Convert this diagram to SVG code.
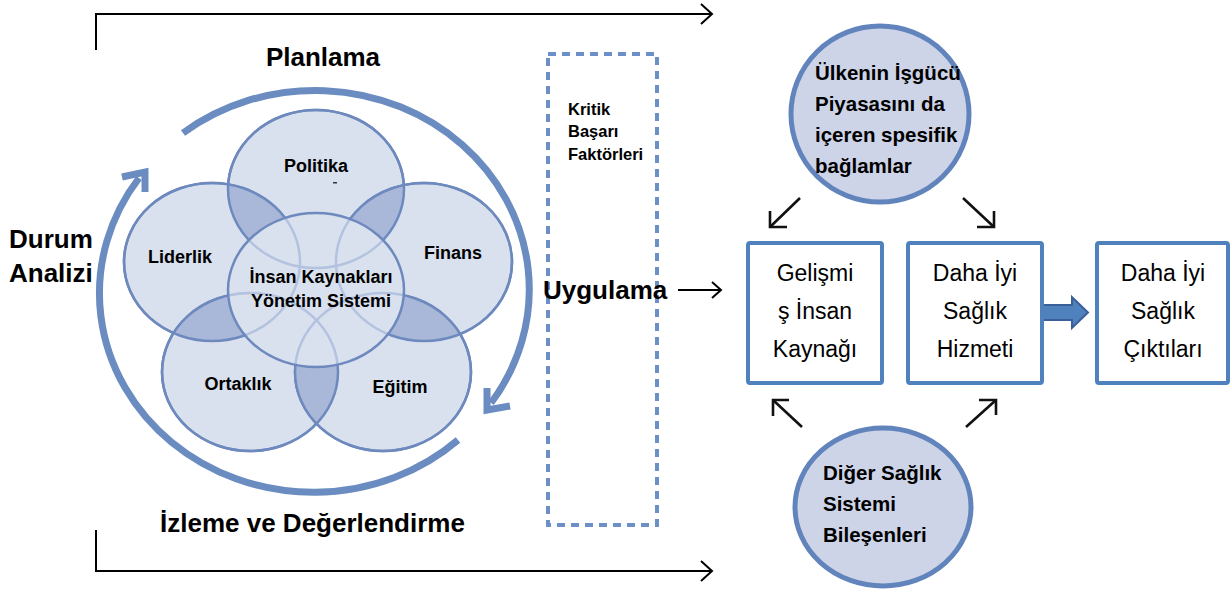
<svg xmlns="http://www.w3.org/2000/svg" xmlns:xlink="http://www.w3.org/1999/xlink" width="1231" height="592" viewBox="0 0 1231 592">
<style>
text{font-family:"Liberation Sans",Arial,sans-serif;fill:#000}
.b{font-weight:bold}
.big{font-size:26px;font-weight:bold}
.vl{font-size:18px;font-weight:bold}
.ks{font-size:16.5px;font-weight:bold}
.rc{font-size:20.5px;font-weight:bold}
.bx{font-size:23px;text-anchor:middle}
.vfill{fill:#d9e1ef;stroke:none}
.vstroke{fill:none;stroke:#6d89bd;stroke-width:2.5}
.lens{fill:#a9b8d9;stroke:none}
.faint{fill:none;stroke:#b3c2de;stroke-width:2.5}
.cyc{fill:none;stroke:#6a8cc1;stroke-width:7}
.blk{fill:none;stroke:#000;stroke-width:2}
.sm{fill:none;stroke:#111;stroke-width:2.6}
.box{fill:#fff;stroke:#4f81bd;stroke-width:4}
.rcirc{fill:#cdd4e8;stroke:#6284bc;stroke-width:5}
</style>
<defs>
<ellipse id="eP" cx="316" cy="189" rx="88" ry="79"/>
<ellipse id="eL" cx="212" cy="262" rx="88" ry="79"/>
<ellipse id="eF" cx="424" cy="262" rx="88" ry="79"/>
<ellipse id="eO" cx="250" cy="372" rx="88" ry="79"/>
<ellipse id="eE" cx="383" cy="372" rx="88" ry="79"/>
<ellipse id="eC" cx="316" cy="290" rx="88" ry="77"/>
<clipPath id="cP"><use xlink:href="#eP"/></clipPath>
<clipPath id="cL"><use xlink:href="#eL"/></clipPath>
<clipPath id="cF"><use xlink:href="#eF"/></clipPath>
<clipPath id="cO"><use xlink:href="#eO"/></clipPath>
<clipPath id="cC"><use xlink:href="#eC"/></clipPath>
</defs>

<g id="connectors">
<!-- top bracket -->
<polyline class="blk" points="96,50 96,14 712,14"/>
<polyline class="blk" points="701,4 712,14 701,24"/>
<!-- bottom bracket -->
<polyline class="blk" points="96,530 96,571 712,571"/>
<polyline class="blk" points="701,561 712,571 701,581"/>
<!-- cycle arrows -->
<path class="cyc" d="M183,133 A214,199 0 0 1 491,403"/>
<polyline class="cyc" points="487,388 487,410 510,406"/>
<path class="cyc" d="M458,440 A214,199 0 0 1 139,178"/>
<polyline class="cyc" points="122,177 145,172 145,192"/>
<!-- Uygulama arrow -->
<line class="blk" x1="678" y1="290" x2="721" y2="290"/>
<polyline class="blk" points="712,282 721,290 712,298"/>
<!-- small arrows -->
<line class="sm" x1="800" y1="198" x2="770" y2="227"/>
<polyline class="sm" points="770,211 770,227 787,227"/>
<line class="sm" x1="963" y1="198" x2="994" y2="227"/>
<polyline class="sm" points="994,211 994,227 977,227"/>
<line class="sm" x1="802" y1="427" x2="773" y2="400"/>
<polyline class="sm" points="789,400 773,400 773,416"/>
<line class="sm" x1="966" y1="427" x2="996" y2="400"/>
<polyline class="sm" points="979,400 996,400 996,415"/>
<!-- block arrow -->
<polygon points="1043,305 1072,305 1072,297 1088,312.5 1072,328 1072,320 1043,320" fill="#4f81bd" stroke="#3a609a" stroke-width="2"/>
</g>

<g id="politika"><use xlink:href="#eP" class="vfill"/><use xlink:href="#eP" class="vstroke"/><text class="vl" x="316" y="172" text-anchor="middle">Politika</text><rect x="333" y="182" width="4" height="1.5" fill="#333"/></g>
<g id="liderlik"><use xlink:href="#eL" class="vfill"/><use xlink:href="#eL" class="vstroke"/><text class="vl" x="180" y="263" text-anchor="middle">Liderlik</text></g>
<g id="finans"><use xlink:href="#eF" class="vfill"/><use xlink:href="#eF" class="vstroke"/><text class="vl" x="453" y="259" text-anchor="middle">Finans</text></g>
<g id="ortaklik"><use xlink:href="#eO" class="vfill"/><use xlink:href="#eO" class="vstroke"/><text class="vl" x="238" y="390" text-anchor="middle">Ortaklık</text></g>
<g id="egitim"><use xlink:href="#eE" class="vfill"/><use xlink:href="#eE" class="vstroke"/><text class="vl" x="400" y="393" text-anchor="middle">Eğitim</text></g>

<g id="lenses">
<use xlink:href="#eL" class="lens" clip-path="url(#cP)"/>
<use xlink:href="#eF" class="lens" clip-path="url(#cP)"/>
<use xlink:href="#eO" class="lens" clip-path="url(#cL)"/>
<use xlink:href="#eE" class="lens" clip-path="url(#cF)"/>
<use xlink:href="#eE" class="lens" clip-path="url(#cO)"/>
<use xlink:href="#eP" class="vstroke"/>
<use xlink:href="#eL" class="vstroke"/>
<use xlink:href="#eF" class="vstroke"/>
<use xlink:href="#eO" class="vstroke"/>
<use xlink:href="#eE" class="vstroke"/>
</g>

<g id="ik-sistemi">
<use xlink:href="#eC" class="vfill"/>
<g clip-path="url(#cC)">
<use xlink:href="#eP" class="faint"/>
<use xlink:href="#eL" class="faint"/>
<use xlink:href="#eF" class="faint"/>
<use xlink:href="#eO" class="faint"/>
<use xlink:href="#eE" class="faint"/>
</g>
<use xlink:href="#eC" class="vstroke"/>
<text class="vl" x="321" y="283" text-anchor="middle">İnsan Kaynakları</text>
<text class="vl" x="321" y="307" text-anchor="middle">Yönetim Sistemi</text>
</g>

<g id="labels">
<text class="big" x="323" y="66" text-anchor="middle">Planlama</text>
<text class="big" x="9" y="248">Durum</text>
<text class="big" x="9" y="282">Analizi</text>
<text class="big" x="160" y="532">İzleme ve Değerlendirme</text>
</g>

<g id="kritik">
<rect x="548" y="54" width="109" height="471" fill="none" stroke="#6d8fc7" stroke-width="4" stroke-dasharray="8,6"/>
<text class="ks" x="568" y="115">Kritik</text>
<text class="ks" x="568" y="137">Başarı</text>
<text class="ks" x="568" y="160">Faktörleri</text>
<text class="big" x="543" y="299">Uygulama</text>
</g>

<g id="ulke">
<ellipse class="rcirc" cx="880" cy="114" rx="89" ry="88"/>
<text class="rc" x="815" y="80">Ülkenin İşgücü</text>
<text class="rc" x="815" y="111">Piyasasını da</text>
<text class="rc" x="815" y="142">içeren spesifik</text>
<text class="rc" x="815" y="173">bağlamlar</text>
</g>

<g id="diger">
<ellipse class="rcirc" cx="883" cy="507" rx="88" ry="79"/>
<text class="rc" x="823" y="480">Diğer Sağlık</text>
<text class="rc" x="823" y="511">Sistemi</text>
<text class="rc" x="823" y="542">Bileşenleri</text>
</g>

<g id="gelismis">
<rect class="box" x="748" y="243" width="134" height="140" rx="2"/>
<text class="bx" x="815" y="281">Gelişmi</text>
<text class="bx" x="815" y="319">ş İnsan</text>
<text class="bx" x="815" y="357">Kaynağı</text>
</g>

<g id="hizmet">
<rect class="box" x="908" y="243" width="134" height="140" rx="2"/>
<text class="bx" x="975" y="281">Daha İyi</text>
<text class="bx" x="975" y="319">Sağlık</text>
<text class="bx" x="975" y="357">Hizmeti</text>
</g>

<g id="ciktilar">
<rect class="box" x="1097" y="243" width="131" height="140" rx="2"/>
<text class="bx" x="1163" y="281">Daha İyi</text>
<text class="bx" x="1163" y="319">Sağlık</text>
<text class="bx" x="1163" y="357">Çıktıları</text>
</g>
</svg>
